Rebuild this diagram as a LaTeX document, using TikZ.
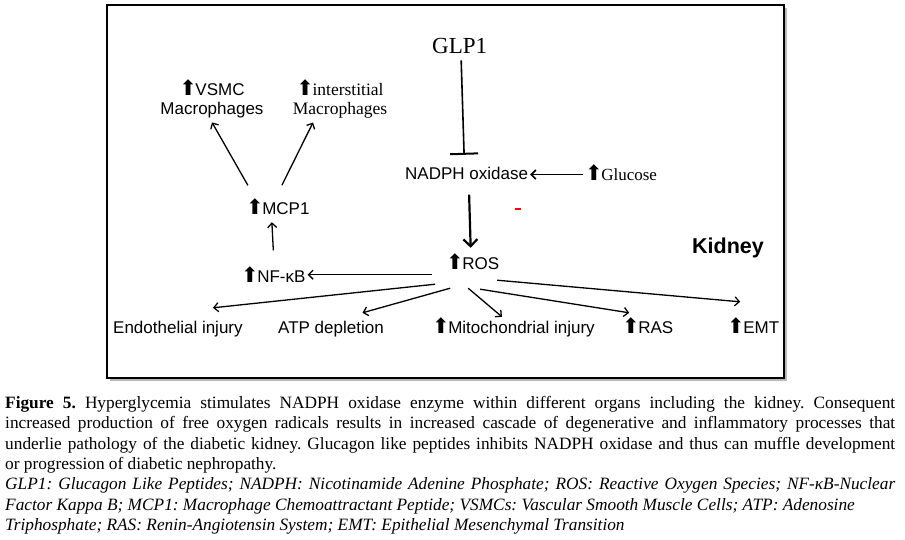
\documentclass[tikz,border=0pt]{standalone}
\usepackage{fontspec}
\setmainfont{Liberation Serif}
\setsansfont{Liberation Sans}
\newfontfamily\arrowfont{DejaVu Sans}
\usetikzlibrary{arrows.meta,shadows}
\newcommand\incr{{\arrowfont\fontsize{21}{21}\selectfont ⬆}\kern-1.5pt}

\begin{document}
\begin{tikzpicture}[x=1pt,y=-1pt,>={Straight Barb[length=4.5pt,width=9pt]},
  lbl/.style={font=\sffamily\fontsize{17}{19}\selectfont,inner sep=2pt,anchor=base west,text height=12.5pt,text depth=3.5pt},
  srf/.style={font=\rmfamily\fontsize{17.5}{19}\selectfont,inner sep=2pt,anchor=base west},
  link/.style={->,line width=1.3pt},
  heavy/.style={-{Straight Barb[length=7pt,width=14pt]},line width=2.2pt},
  inhibit/.style={-{Bar[width=28pt,line width=2pt]},line width=1.6pt}]
  \useasboundingbox (0,0) rectangle (905,539);
  \node[draw,line width=1.2pt,fill=white,minimum width=677pt,minimum height=373pt,inner sep=0,
    drop shadow={shadow xshift=2.5pt,shadow yshift=-2.5pt,fill=black!55}] (frame) at (445.5,191.5) {};

  \node[srf,font=\rmfamily\fontsize{23}{25}\selectfont] (glp1) at (430,53) {GLP1};
  \node[lbl] (nadph) at (403,179) {NADPH oxidase};
  \node[srf,font=\rmfamily\fontsize{17}{19}\selectfont] (glucose) at (583,180) {\incr Glucose};
  \node[lbl] (ros) at (444,269) {\incr ROS};
  \node[lbl] (nfkb) at (239,282) {\incr NF-κB};
  \node[lbl] (mcp1) at (244,214) {\incr MCP1};
  \node[font=\sffamily\fontsize{17}{19}\selectfont,align=center,inner sep=0] (vsmc) at (212,99) {\incr VSMC\\Macrophages};
  \node[font=\rmfamily\fontsize{17.5}{19}\selectfont,align=center,inner sep=0] (inter) at (340,99) {\incr interstitial\\Macrophages};
  \node[lbl] (endo) at (111,333) {Endothelial injury};
  \node[lbl] (atp) at (276,333) {ATP depletion};
  \node[lbl] (mito) at (430,333) {\incr Mitochondrial injury};
  \node[lbl] (ras) at (620,333) {\incr RAS};
  \node[lbl] (emt) at (725,333) {\incr EMT};
  \node[font=\sffamily\bfseries\fontsize{21.5}{24}\selectfont,inner sep=2pt,anchor=base west] (kidney) at (690,253) {Kidney};
  \draw[red,line width=1.6pt] (514.5,209) -- (520.5,209);

  \draw[inhibit] ([xshift=1.5pt,yshift=-5pt]glp1.south) -- ([xshift=-2.5pt,yshift=9.5pt]nadph.north);
  \draw[link,line width=1.6pt] (glucose.west |- nadph.east) -- (nadph.east);
  \draw[heavy] ([xshift=2.5pt,yshift=-10pt]nadph.south) -- ([xshift=-2pt,yshift=6.5pt]ros.north);
  \draw[link] ([xshift=-12pt]ros.south west) -- (nfkb.east |- ros.south);
  \draw[link] ([yshift=17pt]nfkb.north) -- ([xshift=-6pt,yshift=-2.5pt]mcp1.south);
  \draw[link] ([shift={(-30pt,14pt)}]mcp1.north) -- ([yshift=-4pt]vsmc.south);
  \draw[link] ([shift={(4pt,14pt)}]mcp1.north) -- ([shift={(-27pt,-4pt)}]inter.south);
  \draw[link] ([shift={(-37.5pt,-9.5pt)}]ros.south) -- ([shift={(35pt,10.5pt)}]endo.north);
  \draw[link] ([shift={(-22.5pt,-13.5pt)}]ros.south) -- ([shift={(31.5pt,5.5pt)}]atp.north);
  \draw[link] ([shift={(-4.5pt,-13.5pt)}]ros.south) -- ([shift={(-11.5pt,1.5pt)}]mito.north);
  \draw[link] ([shift={(7.5pt,-14.5pt)}]ros.south) -- ([shift={(-18.5pt,5.5pt)}]ras.north);
  \draw[link] ([shift={(24.5pt,-5.5pt)}]ros.south) -- ([shift={(-13pt,16.5pt)}]emt.north);

  \node[anchor=north west,inner sep=0,text width=890pt,align=justify,
    font=\fontsize{17.3}{20.4}\selectfont] (caption) at (5,396)
    {\hyphenpenalty=10000 \frenchspacing \textbf{Figure 5.} Hyperglycemia stimulates NADPH oxidase enzyme within different organs including the kidney. Consequent\linebreak
    increased production of free oxygen radicals results in increased cascade of degenerative and inflammatory processes that\linebreak
    underlie pathology of the diabetic kidney. Glucagon like peptides inhibits NADPH oxidase and thus can muffle development\linebreak
    or progression of diabetic nephropathy.\par
    {\itshape GLP1: Glucagon Like Peptides; NADPH: Nicotinamide Adenine Phosphate; ROS: Reactive Oxygen Species; NF-κB-Nuclear\linebreak
    Factor Kappa B; MCP1: Macrophage Chemoattractant Peptide; VSMCs: Vascular Smooth Muscle Cells; ATP: Adenosine\newline
    Triphosphate; RAS: Renin-Angiotensin System; EMT: Epithelial Mesenchymal Transition\par}};
\end{tikzpicture}
\end{document}
